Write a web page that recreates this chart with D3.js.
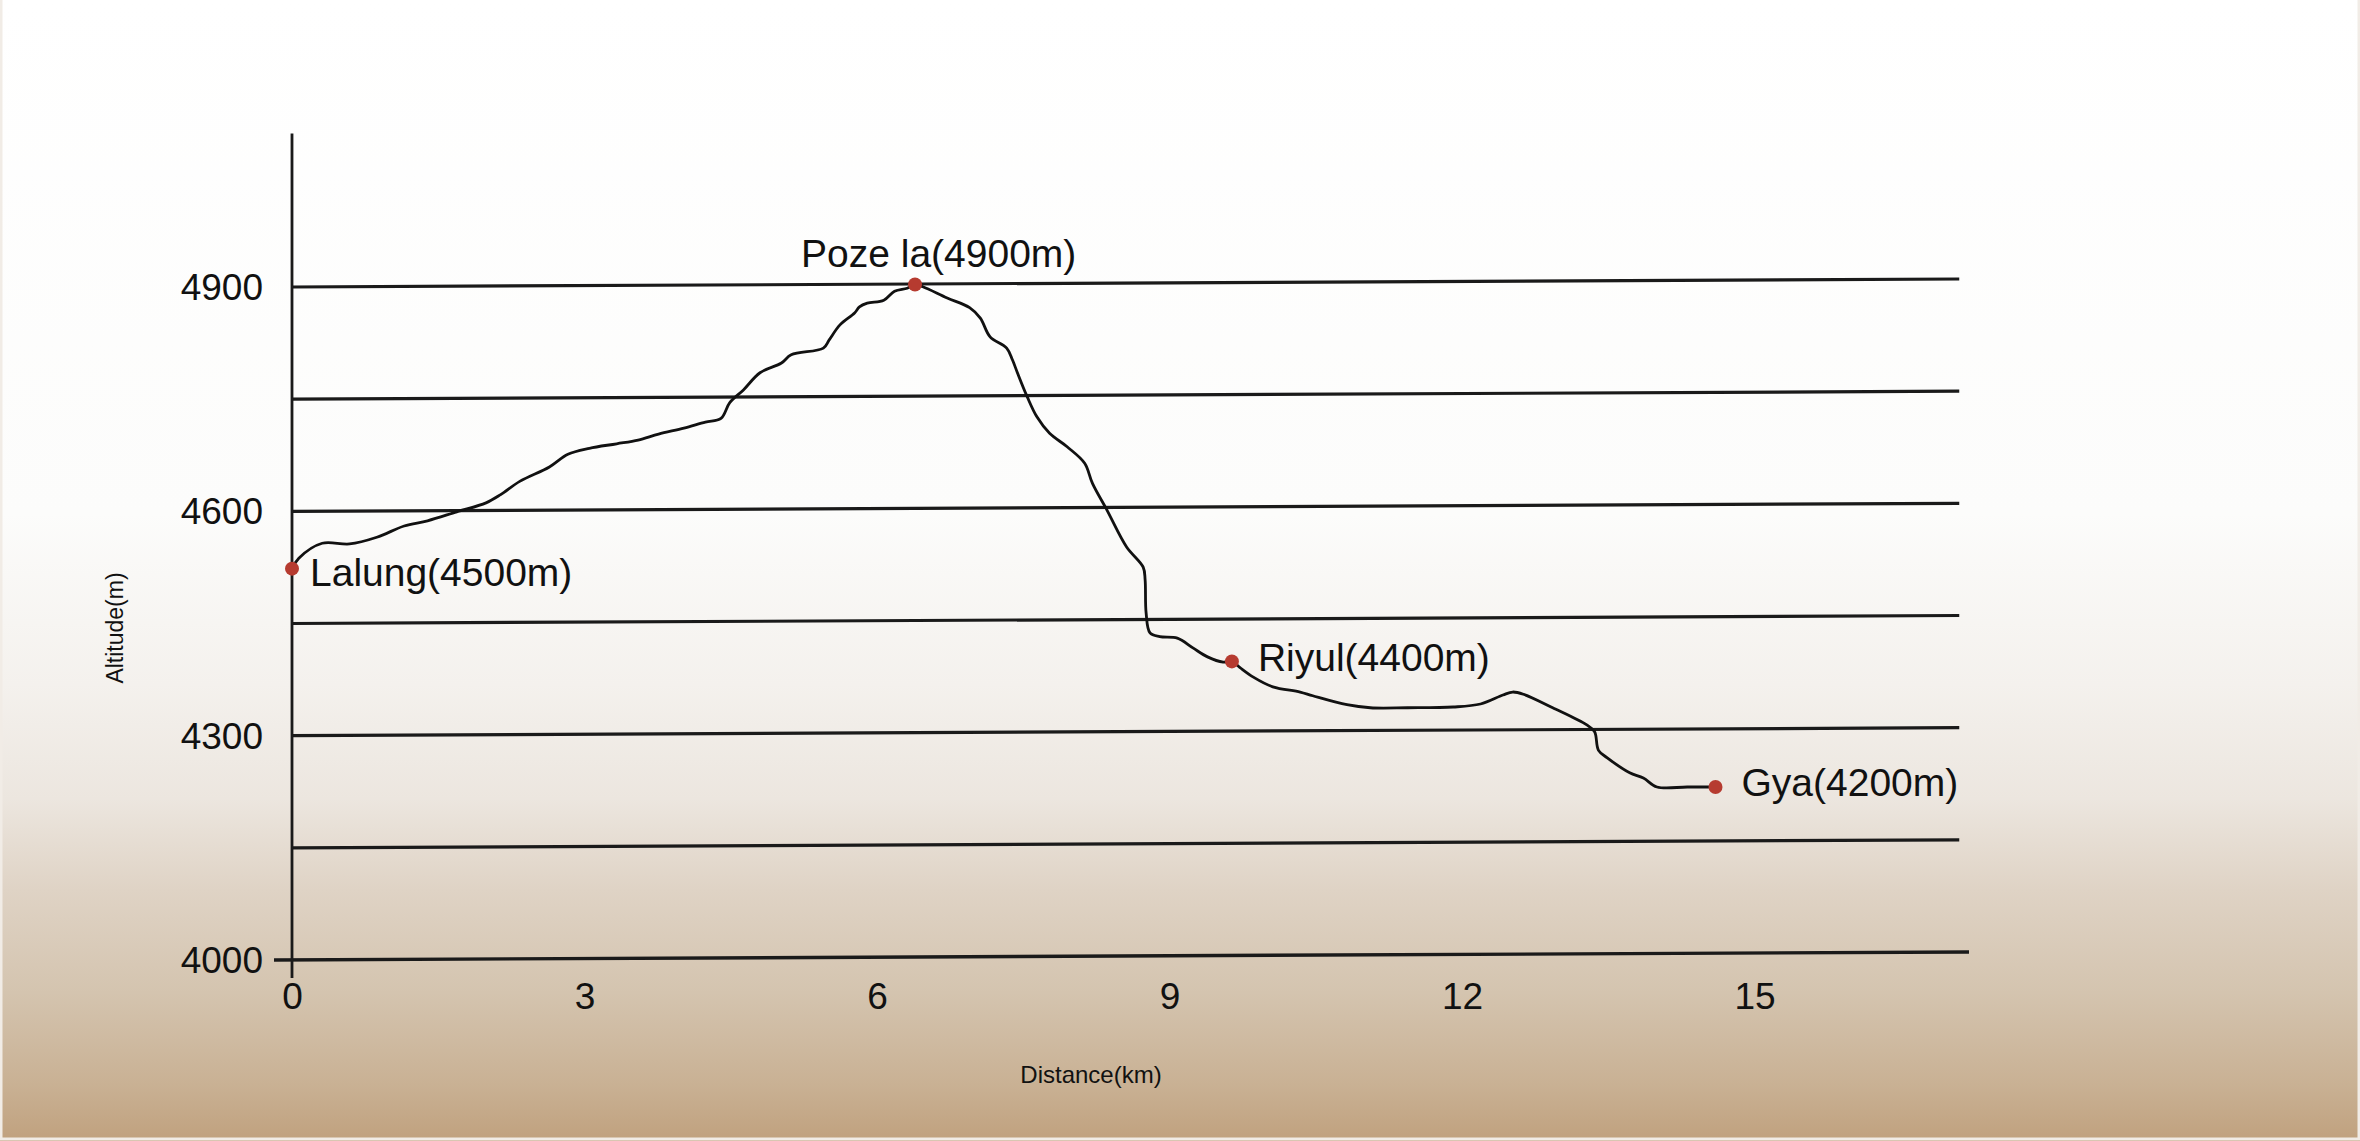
<!DOCTYPE html>
<html>
<head>
<meta charset="utf-8">
<script src="https://cdn.jsdelivr.net/npm/d3@7"></script>
<style>
  html, body { margin: 0; padding: 0; background: #fff; }
  svg { display: block; }
</style>
</head>
<body>
<script>
// trail profile (km along the route, metres)
const distanceKm = [
  0, 0.07, 0.31, 0.59, 0.87, 1.15, 1.39, 1.69, 1.99, 2.14, 2.34, 2.64, 2.83,
  3.05, 3.33, 3.55, 3.76, 4.02, 4.24, 4.4, 4.49, 4.63, 4.8, 5.02, 5.12, 5.45,
  5.51, 5.62, 5.77, 5.82, 5.9, 6.07, 6.18, 6.31, 6.39,
  6.47, 6.72, 6.95, 7.06, 7.16, 7.33, 7.39, 7.44, 7.54, 7.64, 7.77, 7.95, 8.13,
  8.21, 8.36, 8.56, 8.73, 8.75, 8.76, 8.8, 8.9, 9.08, 9.24, 9.39, 9.55, 9.64,
  9.72, 9.86, 10.06, 10.34, 10.47, 10.82, 11.06, 11.44, 11.91, 12.19, 12.42,
  12.52, 12.63, 12.93, 13.28, 13.36, 13.4, 13.49, 13.72, 13.86, 14.0, 14.31, 14.6
];
const altitudeM = [
  4518, 4532, 4552, 4551, 4560, 4575, 4582, 4594, 4606, 4617, 4635, 4654, 4671,
  4679, 4685, 4690, 4698, 4706, 4714, 4719, 4740, 4757, 4780, 4793, 4804, 4813,
  4824, 4844, 4860, 4868, 4873, 4877, 4889, 4893, 4898,
  4895, 4880, 4867, 4853, 4828, 4813, 4797, 4780, 4748, 4721, 4699, 4681, 4659,
  4632, 4596, 4547, 4520, 4503, 4459, 4432, 4427, 4425, 4412, 4400, 4393, 4394,
  4386, 4373, 4360, 4353, 4348, 4336, 4332, 4332, 4333, 4337, 4349,
  4353, 4350, 4332, 4309, 4300, 4275, 4265, 4245, 4238, 4226, 4226, 4226
];

const stopNames = ["Lalung(4500m)", "Poze la(4900m)", "Riyul(4400m)", "Gya(4200m)"];
const stopKm = [0, 6.39, 9.64, 14.6];
const stopAlt = [4518, 4898, 4394, 4226];

const xTicks = [0, 3, 6, 9, 12, 15];
const yTicks = [4000, 4300, 4600, 4900];
const gridAlt = [4150, 4300, 4450, 4600, 4750, 4900];

const W = 2360, H = 1141;
const font = "'Liberation Sans', Arial, Helvetica, sans-serif";
// the printed rules rise a little towards the right
const tilt = 4;

const x = d3.scaleLinear().domain([0, 17.2]).range([292, 1969]);
const y = d3.scaleLinear().domain([4000, 4900]).range([956, 283]);

const svg = d3.select("body").append("svg")
  .attr("width", W)
  .attr("height", H)
  .attr("font-family", font);

// paper background: white fading into tan at the bottom
const grad = svg.append("defs").append("linearGradient")
  .attr("id", "bg")
  .attr("x1", 0).attr("y1", 0).attr("x2", 0).attr("y2", 1);
[
  [0, "#ffffff"], [0.45, "#fcfcfb"], [0.6, "#f4f1ed"], [0.7, "#ece6df"],
  [0.78, "#dfd3c5"], [0.87, "#d4c4af"], [0.95, "#c9b194"], [1, "#c0a17e"]
].forEach(([o, c]) => grad.append("stop").attr("offset", o).attr("stop-color", c));

svg.append("rect")
  .attr("width", W).attr("height", H)
  .attr("fill", "url(#bg)");
svg.append("rect")
  .attr("x", 1).attr("y", -4).attr("width", W - 2).attr("height", H + 2)
  .attr("fill", "none")
  .attr("stroke", "#f1ece6")
  .attr("stroke-width", 3);

// horizontal rules
svg.append("g")
  .attr("stroke", "#1a1a1a")
  .attr("stroke-width", 3.2)
  .selectAll("line")
  .data(gridAlt)
  .join("line")
  .attr("x1", x(0))
  .attr("x2", x(17.1))
  .attr("y1", (d) => y(d) + tilt)
  .attr("y2", (d) => y(d) - tilt);

// base line with the small tick left of the axis
svg.append("line")
  .attr("x1", x(0) - 18)
  .attr("x2", x(17.2))
  .attr("y1", y(4000) + tilt)
  .attr("y2", y(4000) - tilt)
  .attr("stroke", "#1a1a1a")
  .attr("stroke-width", 3.4);

// vertical axis line
svg.append("line")
  .attr("x1", x(0))
  .attr("x2", x(0))
  .attr("y1", y(5100))
  .attr("y2", y(4000) + 22)
  .attr("stroke", "#1a1a1a")
  .attr("stroke-width", 2.8);

const yAxis = svg.append("g")
  .attr("transform", `translate(${x(0)},0)`)
  .call(d3.axisLeft(y).tickValues(yTicks).tickFormat(d3.format("d"))
    .tickSize(0).tickPadding(29));
yAxis.select(".domain").remove();
yAxis.selectAll("text")
  .attr("font-family", font)
  .attr("font-size", 37)
  .attr("fill", "#111")
  .attr("dy", "0.45em");

const xAxis = svg.append("g")
  .attr("transform", `translate(0,${y(4000)})`)
  .call(d3.axisBottom(x).tickValues(xTicks).tickFormat(d3.format("d"))
    .tickSize(0).tickPadding(27));
xAxis.select(".domain").remove();
xAxis.selectAll("text")
  .attr("font-family", font)
  .attr("font-size", 37)
  .attr("fill", "#111");

svg.append("text")
  .attr("transform", `translate(123,628) rotate(-90)`)
  .attr("text-anchor", "middle")
  .attr("font-size", 23)
  .attr("fill", "#111")
  .text("Altitude(m)");

svg.append("text")
  .attr("x", 1091)
  .attr("y", 1083)
  .attr("text-anchor", "middle")
  .attr("font-size", 24)
  .attr("fill", "#111")
  .text("Distance(km)");

// the profile itself
const profile = distanceKm.map((d, i) => [d, altitudeM[i]]);
svg.append("path")
  .datum(profile)
  .attr("fill", "none")
  .attr("stroke", "#111")
  .attr("stroke-width", 2.8)
  .attr("stroke-linejoin", "round")
  .attr("d", d3.line()
    .x((d) => x(d[0]))
    .y((d) => y(d[1]))
    .curve(d3.curveCatmullRom.alpha(0.5)));

// stops
const labelShift = [[18, 17], [-114, -17], [26, 10], [26, 9]];
const stops = stopNames.map((name, i) => ({ name, km: stopKm[i], alt: stopAlt[i], i }));

svg.append("g")
  .selectAll("circle")
  .data(stops)
  .join("circle")
  .attr("cx", (d) => x(d.km))
  .attr("cy", (d) => y(d.alt))
  .attr("r", 7)
  .attr("fill", "#b63b30");

svg.append("g")
  .selectAll("text")
  .data(stops)
  .join("text")
  .attr("x", (d) => x(d.km) + labelShift[d.i][0])
  .attr("y", (d) => y(d.alt) + labelShift[d.i][1])
  .attr("font-size", 39)
  .attr("fill", "#111")
  .text((d) => d.name);
</script>
</body>
</html>
